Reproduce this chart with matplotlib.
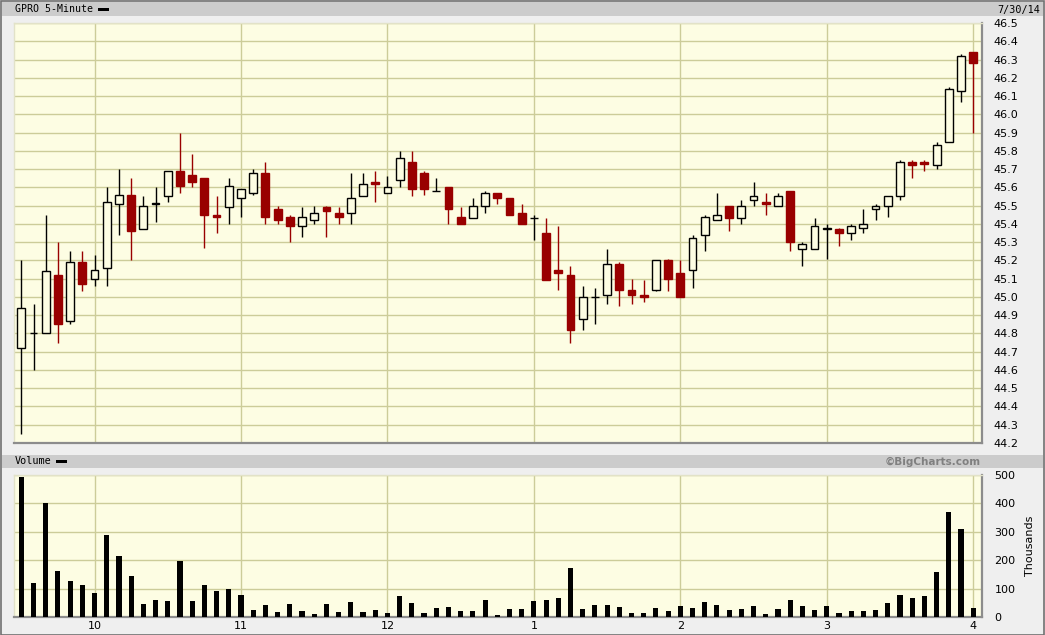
import numpy as np
import matplotlib
matplotlib.use('Agg')
import matplotlib.pyplot as plt
from matplotlib.patches import Rectangle

# 5分钟K线数据 (9:30 - 4:00)
opens = [44.72, 44.80, 44.80, 45.12, 44.87, 45.19, 45.10, 45.16, 45.51, 45.56,
         45.37, 45.51, 45.55, 45.69, 45.67, 45.65, 45.45, 45.49, 45.54, 45.57,
         45.68, 45.48, 45.44, 45.39, 45.42, 45.49, 45.46, 45.46, 45.55, 45.63,
         45.57, 45.64, 45.74, 45.68, 45.58, 45.60, 45.44, 45.43, 45.50, 45.57,
         45.54, 45.46, 45.43, 45.35, 45.15, 45.12, 44.88, 45.00, 45.01, 45.18,
         45.04, 45.01, 45.04, 45.20, 45.13, 45.15, 45.34, 45.42, 45.50, 45.43,
         45.53, 45.52, 45.50, 45.58, 45.26, 45.26, 45.37, 45.37, 45.35, 45.38,
         45.48, 45.50, 45.55, 45.74, 45.74, 45.72, 45.85, 46.13, 46.34]
highs = [45.20, 44.96, 45.45, 45.30, 45.25, 45.25, 45.23, 45.60, 45.70, 45.65,
         45.55, 45.60, 45.69, 45.90, 45.78, 45.65, 45.55, 45.65, 45.59, 45.70,
         45.74, 45.50, 45.45, 45.49, 45.50, 45.50, 45.49, 45.68, 45.68, 45.69,
         45.66, 45.80, 45.80, 45.69, 45.65, 45.60, 45.49, 45.54, 45.58, 45.57,
         45.54, 45.51, 45.45, 45.43, 45.39, 45.17, 45.06, 45.05, 45.26, 45.19,
         45.10, 45.09, 45.20, 45.21, 45.20, 45.34, 45.45, 45.57, 45.50, 45.53,
         45.63, 45.57, 45.57, 45.58, 45.30, 45.43, 45.40, 45.38, 45.40, 45.48,
         45.51, 45.55, 45.75, 45.75, 45.75, 45.85, 46.15, 46.33, 46.34]
lows = [44.25, 44.60, 44.80, 44.75, 44.85, 45.03, 45.06, 45.06, 45.34, 45.20,
        45.37, 45.41, 45.52, 45.57, 45.60, 45.27, 45.35, 45.40, 45.44, 45.56,
        45.40, 45.40, 45.30, 45.33, 45.40, 45.33, 45.40, 45.40, 45.55, 45.52,
        45.57, 45.60, 45.55, 45.56, 45.58, 45.40, 45.40, 45.43, 45.46, 45.51,
        45.45, 45.40, 45.31, 45.09, 45.04, 44.75, 44.82, 44.85, 44.96, 44.95,
        44.96, 44.97, 45.03, 45.03, 45.00, 45.05, 45.25, 45.42, 45.36, 45.40,
        45.50, 45.45, 45.50, 45.25, 45.17, 45.26, 45.21, 45.28, 45.31, 45.35,
        45.42, 45.44, 45.53, 45.65, 45.69, 45.70, 45.85, 46.07, 45.90]
closes = [44.94, 44.80, 45.14, 44.85, 45.19, 45.07, 45.15, 45.52, 45.56, 45.36,
          45.50, 45.51, 45.69, 45.61, 45.63, 45.45, 45.44, 45.61, 45.59, 45.68,
          45.44, 45.42, 45.39, 45.44, 45.46, 45.47, 45.44, 45.54, 45.62, 45.62,
          45.60, 45.76, 45.59, 45.59, 45.58, 45.48, 45.40, 45.50, 45.57, 45.54,
          45.45, 45.40, 45.43, 45.09, 45.13, 44.82, 45.00, 45.00, 45.18, 45.04,
          45.01, 45.00, 45.20, 45.10, 45.00, 45.32, 45.44, 45.45, 45.43, 45.50,
          45.55, 45.51, 45.55, 45.30, 45.29, 45.39, 45.38, 45.35, 45.39, 45.40,
          45.50, 45.55, 45.74, 45.72, 45.73, 45.83, 46.14, 46.32, 46.28]
# 成交量 (千股)
volumes = [493, 121, 400, 163, 127, 113, 86, 290, 216, 145,
           46, 60, 57, 198, 57, 113, 92, 99, 78, 25,
           42, 18, 46, 21, 11, 46, 18, 53, 18, 25,
           14, 74, 50, 14, 32, 35, 21, 21, 60, 7,
           28, 28, 57, 60, 67, 173, 28, 42, 42, 35,
           14, 14, 32, 21, 39, 32, 53, 42, 25, 28,
           39, 11, 28, 60, 39, 25, 39, 14, 21, 21,
           25, 50, 78, 67, 74, 157, 368, 311, 32]
hour_bars = [6, 18, 30, 42, 54, 66, 78]
hour_labels = ['10', '11', '12', '1', '2', '3', '4']
price_ticks = np.round(np.arange(44.2, 46.51, 0.1), 1)
volume_ticks = [0, 100, 200, 300, 400, 500]

BG = '#efefef'
PLOT_BG = '#fdfde3'
GRID = '#cccc99'
RED = '#990000'
HEADER = '#cccccc'

fig = plt.figure(figsize=(10.45, 6.35), dpi=100, facecolor=BG)

# 标题栏
for y0, y1 in [(2, 16), (455, 468)]:
    fig.patches.append(Rectangle((2 / 1045, 1 - y1 / 635), 1041 / 1045, (y1 - y0) / 635,
                                 transform=fig.transFigure, facecolor=HEADER,
                                 edgecolor='none', zorder=0))
fig.patches.append(Rectangle((0.5 / 1045, 0.5 / 635), 1043.5 / 1045, 633.5 / 635,
                             transform=fig.transFigure, facecolor='none',
                             edgecolor='#707070', lw=1.2, zorder=5))

fig.text(15 / 1045, 1 - 9.5 / 635, 'GPRO 5-Minute', family='DejaVu Sans Mono',
         fontsize=7.1, va='center', ha='left')
fig.patches.append(Rectangle((98 / 1045, 1 - 11 / 635), 11 / 1045, 3 / 635,
                             transform=fig.transFigure, facecolor='black', zorder=2))
fig.text(1040 / 1045, 1 - 9.5 / 635, '7/30/14', family='DejaVu Sans Mono',
         fontsize=7.3, va='center', ha='right')
fig.text(15 / 1045, 1 - 461.5 / 635, 'Volume', family='DejaVu Sans Mono',
         fontsize=7.3, va='center', ha='left')
fig.patches.append(Rectangle((56 / 1045, 1 - 463 / 635), 11 / 1045, 3 / 635,
                             transform=fig.transFigure, facecolor='black', zorder=2))
fig.text(981 / 1045, 1 - 461.5 / 635, '©BigCharts.com', fontsize=7.5,
         fontweight='bold', color='#808080', va='center', ha='right')

ax = fig.add_axes([14 / 1045, 1 - 443 / 635, 968 / 1045, 420 / 635])
axv = fig.add_axes([14 / 1045, 1 - 617 / 635, 968 / 1045, 142 / 635])

x = np.arange(len(closes))
o = np.array(opens)
c = np.array(closes)
down = c < o
edge = [RED if d else 'black' for d in down]
face = [RED if d else PLOT_BG for d in down]

# K线
ax.vlines(x, lows, highs, colors=edge, lw=1.0, zorder=3)
body_h = np.maximum(np.abs(c - o), 0.002)
ax.bar(x, body_h, bottom=np.minimum(o, c), width=0.64, color=face,
       edgecolor=edge, lw=1.0, zorder=4)

# 成交量
axv.bar(x, volumes, width=0.42, color='black', zorder=3)

for a in (ax, axv):
    a.set_facecolor(PLOT_BG)
    a.set_xlim(-0.6, 78.72)
    a.set_xticks(hour_bars)
    a.grid(True, color=GRID, lw=1.0, zorder=0)
    a.set_axisbelow(True)
    a.yaxis.tick_right()
    a.tick_params(length=0, labelsize=8)
    for s in ('top', 'left'):
        a.spines[s].set_color('#e2e2c8')
        a.spines[s].set_linewidth(1.0)
    for s in ('bottom', 'right'):
        a.spines[s].set_color('#8c8c8c')
        a.spines[s].set_linewidth(1.6)

ax.set_ylim(44.2, 46.5)
ax.set_yticks(price_ticks)
ax.set_yticklabels(['%.1f' % t for t in price_ticks])
ax.tick_params(axis='y', pad=8)
ax.set_xticklabels([])

axv.set_ylim(0, 500)
axv.set_yticks(volume_ticks)
axv.tick_params(axis='y', pad=9)
axv.set_xticklabels(hour_labels)
axv.tick_params(axis='x', pad=3)
axv.yaxis.set_label_position('right')
axv.set_ylabel('Thousands', fontsize=8, labelpad=7)

plt.savefig('out.png', dpi=100, facecolor=BG)
